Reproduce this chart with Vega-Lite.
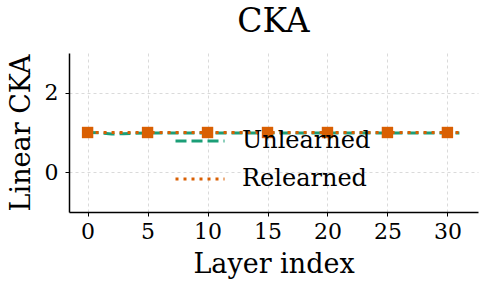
{
  "$schema": "https://vega.github.io/schema/vega-lite/v6.json",
  "width": 409,
  "height": 159,
  "autosize": {"type": "none"},
  "padding": {"left": 69, "top": 53, "right": 10, "bottom": 78},
  "background": "white",
  "title": {"text": "CKA", "font": "DejaVu Serif", "fontSize": 33, "fontWeight": "normal", "color": "black", "offset": 14},
  "config": {
    "view": {"stroke": null},
    "font": "DejaVu Serif",
    "axis": {
      "domainColor": "black", "domainWidth": 1.5, "tickColor": "black", "tickWidth": 1, "tickSize": 4,
      "labelFont": "DejaVu Serif", "labelFontSize": 22, "labelColor": "black",
      "titleFont": "DejaVu Serif", "titleFontSize": 27, "titleFontWeight": "normal", "titleColor": "black",
      "gridColor": "#d0d0d0", "gridDash": [3, 3], "gridWidth": 0.8
    }
  },
  "datasets": {
    "series": [
      {"layer": 0, "cka": 1.0, "model": "Unlearned"},
      {"layer": 1, "cka": 0.99, "model": "Unlearned"},
      {"layer": 2, "cka": 0.96, "model": "Unlearned"},
      {"layer": 3, "cka": 0.97, "model": "Unlearned"},
      {"layer": 4, "cka": 0.98, "model": "Unlearned"},
      {"layer": 5, "cka": 0.99, "model": "Unlearned"},
      {"layer": 6, "cka": 0.99, "model": "Unlearned"},
      {"layer": 7, "cka": 0.99, "model": "Unlearned"},
      {"layer": 8, "cka": 0.99, "model": "Unlearned"},
      {"layer": 9, "cka": 0.99, "model": "Unlearned"},
      {"layer": 10, "cka": 0.99, "model": "Unlearned"},
      {"layer": 11, "cka": 0.99, "model": "Unlearned"},
      {"layer": 12, "cka": 0.99, "model": "Unlearned"},
      {"layer": 13, "cka": 0.99, "model": "Unlearned"},
      {"layer": 14, "cka": 0.99, "model": "Unlearned"},
      {"layer": 15, "cka": 0.99, "model": "Unlearned"},
      {"layer": 16, "cka": 0.99, "model": "Unlearned"},
      {"layer": 17, "cka": 0.99, "model": "Unlearned"},
      {"layer": 18, "cka": 0.99, "model": "Unlearned"},
      {"layer": 19, "cka": 0.99, "model": "Unlearned"},
      {"layer": 20, "cka": 0.99, "model": "Unlearned"},
      {"layer": 21, "cka": 0.99, "model": "Unlearned"},
      {"layer": 22, "cka": 0.99, "model": "Unlearned"},
      {"layer": 23, "cka": 0.99, "model": "Unlearned"},
      {"layer": 24, "cka": 0.99, "model": "Unlearned"},
      {"layer": 25, "cka": 0.99, "model": "Unlearned"},
      {"layer": 26, "cka": 0.99, "model": "Unlearned"},
      {"layer": 27, "cka": 0.99, "model": "Unlearned"},
      {"layer": 28, "cka": 0.99, "model": "Unlearned"},
      {"layer": 29, "cka": 0.99, "model": "Unlearned"},
      {"layer": 30, "cka": 0.99, "model": "Unlearned"},
      {"layer": 31, "cka": 0.99, "model": "Unlearned"},
      {"layer": 0, "cka": 1.0, "model": "Relearned"},
      {"layer": 1, "cka": 1.0, "model": "Relearned"},
      {"layer": 2, "cka": 1.0, "model": "Relearned"},
      {"layer": 3, "cka": 1.0, "model": "Relearned"},
      {"layer": 4, "cka": 1.0, "model": "Relearned"},
      {"layer": 5, "cka": 1.0, "model": "Relearned"},
      {"layer": 6, "cka": 1.0, "model": "Relearned"},
      {"layer": 7, "cka": 1.0, "model": "Relearned"},
      {"layer": 8, "cka": 1.0, "model": "Relearned"},
      {"layer": 9, "cka": 1.0, "model": "Relearned"},
      {"layer": 10, "cka": 1.0, "model": "Relearned"},
      {"layer": 11, "cka": 1.0, "model": "Relearned"},
      {"layer": 12, "cka": 1.0, "model": "Relearned"},
      {"layer": 13, "cka": 1.0, "model": "Relearned"},
      {"layer": 14, "cka": 1.0, "model": "Relearned"},
      {"layer": 15, "cka": 1.0, "model": "Relearned"},
      {"layer": 16, "cka": 1.0, "model": "Relearned"},
      {"layer": 17, "cka": 1.0, "model": "Relearned"},
      {"layer": 18, "cka": 1.0, "model": "Relearned"},
      {"layer": 19, "cka": 1.0, "model": "Relearned"},
      {"layer": 20, "cka": 1.0, "model": "Relearned"},
      {"layer": 21, "cka": 1.0, "model": "Relearned"},
      {"layer": 22, "cka": 1.0, "model": "Relearned"},
      {"layer": 23, "cka": 1.0, "model": "Relearned"},
      {"layer": 24, "cka": 1.0, "model": "Relearned"},
      {"layer": 25, "cka": 1.0, "model": "Relearned"},
      {"layer": 26, "cka": 1.0, "model": "Relearned"},
      {"layer": 27, "cka": 1.0, "model": "Relearned"},
      {"layer": 28, "cka": 1.0, "model": "Relearned"},
      {"layer": 29, "cka": 1.0, "model": "Relearned"},
      {"layer": 30, "cka": 1.0, "model": "Relearned"},
      {"layer": 31, "cka": 1.0, "model": "Relearned"}
    ]
  },
  "data": {"name": "series"},
  "encoding": {
    "x": {
      "field": "layer", "type": "quantitative",
      "scale": {"domain": [-1.55, 32.55], "nice": false, "zero": false},
      "axis": {"values": [0, 5, 10, 15, 20, 25, 30], "title": "Layer index", "labelPadding": 5, "titleY": 60, "titleBaseline": "alphabetic", "grid": true}
    },
    "y": {
      "field": "cka", "type": "quantitative",
      "scale": {"domain": [-1, 3], "nice": false, "zero": false},
      "axis": {"values": [0, 2], "title": "Linear CKA", "labelPadding": 7, "titleX": -34, "grid": true}
    }
  },
  "layer": [
    {
      "mark": {"type": "line", "strokeWidth": 3, "clip": true},
      "encoding": {
        "color": {
          "field": "model", "type": "nominal",
          "scale": {"domain": ["Unlearned", "Relearned"], "range": ["#1b9e77", "#d95f02"]},
          "legend": {
            "title": null, "orient": "none", "legendX": 105, "legendY": 62,
            "symbolType": "stroke", "symbolSize": 2400, "symbolStrokeWidth": 3,
            "labelFont": "DejaVu Serif", "labelFontSize": 24, "labelColor": "black",
            "labelOffset": 16, "rowPadding": -4
          }
        },
        "strokeDash": {
          "field": "model", "type": "nominal",
          "scale": {"domain": ["Unlearned", "Relearned"], "range": [[11, 5], [3, 5]]},
          "legend": {
            "title": null, "orient": "none", "legendX": 105, "legendY": 62,
            "symbolType": "stroke", "symbolSize": 2400, "symbolStrokeWidth": 3,
            "labelFont": "DejaVu Serif", "labelFontSize": 24, "labelColor": "black",
            "labelOffset": 16, "rowPadding": -4
          }
        }
      }
    },
    {
      "transform": [{"filter": "datum.model === 'Relearned' && datum.layer % 5 === 0"}],
      "mark": {"type": "point", "shape": "square", "filled": true, "size": 130, "color": "#d95f02", "opacity": 1}
    }
  ]
}
